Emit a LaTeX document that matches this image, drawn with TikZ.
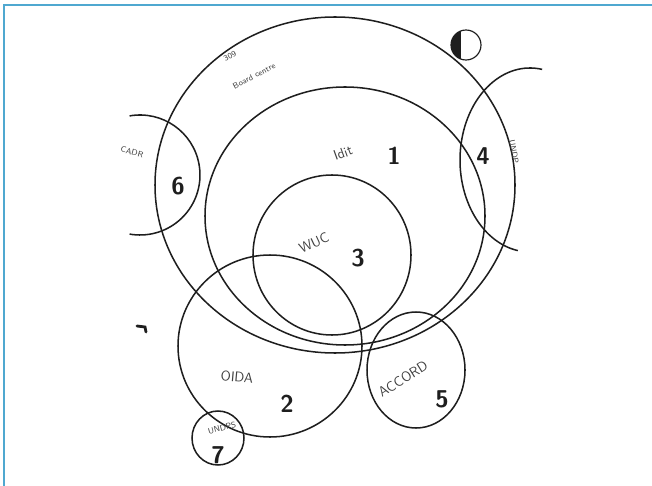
\documentclass[tikz,border=0pt]{standalone}
\usepackage{tikz}
\usetikzlibrary{arrows.meta, positioning}
\definecolor{Ink}{HTML}{1E1E1E}
\definecolor{FrameBlue}{HTML}{4FA8D0}

\begin{document}
\begin{tikzpicture}[x=0.03cm, y=-0.03cm, >=Stealth]
        \tikzset{
            ring/.style={draw=Ink, line width=1.3pt},
            num/.style={font=\huge\bfseries\sffamily, color=Ink, inner sep=0.5pt},
            tag/.style={font=\large\sffamily, color=Ink!85, inner sep=0.5pt},
            smalltag/.style={font=\scriptsize\sffamily, color=Ink!85, inner sep=0.5pt}
        }
        % Page area and the thin blue frame (top and left edge only)
        \useasboundingbox (0,0) rectangle (652,486);
        \draw[color=FrameBlue, line width=1.4pt] (4,486) -- (4,5) -- (652,5);

        % Outer ring
        \draw[ring] (335,185) ellipse [x radius=180, y radius=168];
        % Ring 1
        \draw[ring] (345,216) ellipse [x radius=140, y radius=129];
        % Ring 3
        \draw[ring] (332,255) ellipse [x radius=79, y radius=80];
        % Ring 2
        \draw[ring] (270,346) ellipse [x radius=92, y radius=91];
        % Ring 5
        \draw[ring] (416,370) ellipse [x radius=49, y radius=58];
        % Ring 7
        \draw[ring] (218,438) ellipse [x radius=26, y radius=27];

        % Ring 4 (open towards the right edge)
        \draw[ring] (530,160) ++(-80:70 and 92) arc[start angle=-80, end angle=-260, x radius=70, y radius=92];
        % Ring 6 (open towards the left edge)
        \draw[ring] (140,175) ++(-100:60 and 60) arc[start angle=-100, end angle=100, radius=60];

        % Compass mark, top right
        \begin{scope}
            \clip (466,45) circle (15);
            \fill[Ink] (450,28) rectangle (461,62);
        \end{scope}
        \draw[ring, line width=1pt] (466,45) circle (15);

        % Stray pen mark on the left
        \draw[Ink, line width=2.4pt, line cap=round] (137,326) -- (145,327) -- (146,332);

        % Numbers
        \node[num] (n1) at (394,156) {1};
        \node[num] (n2) at (287,404) {2};
        \node[num] (n3) at (358,258) {3};
        \node[num] (n4) at (483,156) {4};
        \node[num] (n5) at (442,399) {5};
        \node[num] (n6) at (178,186) {6};
        \node[num] (n7) at (218,455) {7};

        % Names
        \node[smalltag, rotate=28] (outer) at (230,56) {309};
        \node[smalltag, rotate=28] (outerb) at (254,76) {Board centre};
        \node[tag, rotate=20] (idit) at (343,153) {Idit};
        \node[tag, rotate=25] (wuc) at (314,243) {WUC};
        \node[tag, rotate=-5] (oida) at (237,377) {OIDA};
        \node[tag, rotate=32] (accord) at (403,379) {ACCORD};
        \node[smalltag, rotate=15] (undps) at (222,428) {UNDPS};
        \node[smalltag, rotate=-15] (cadr) at (132,152) {CADR};
        \node[smalltag, rotate=-80] (undp) at (514,152) {UNDP};
    \end{tikzpicture}
\end{document}
